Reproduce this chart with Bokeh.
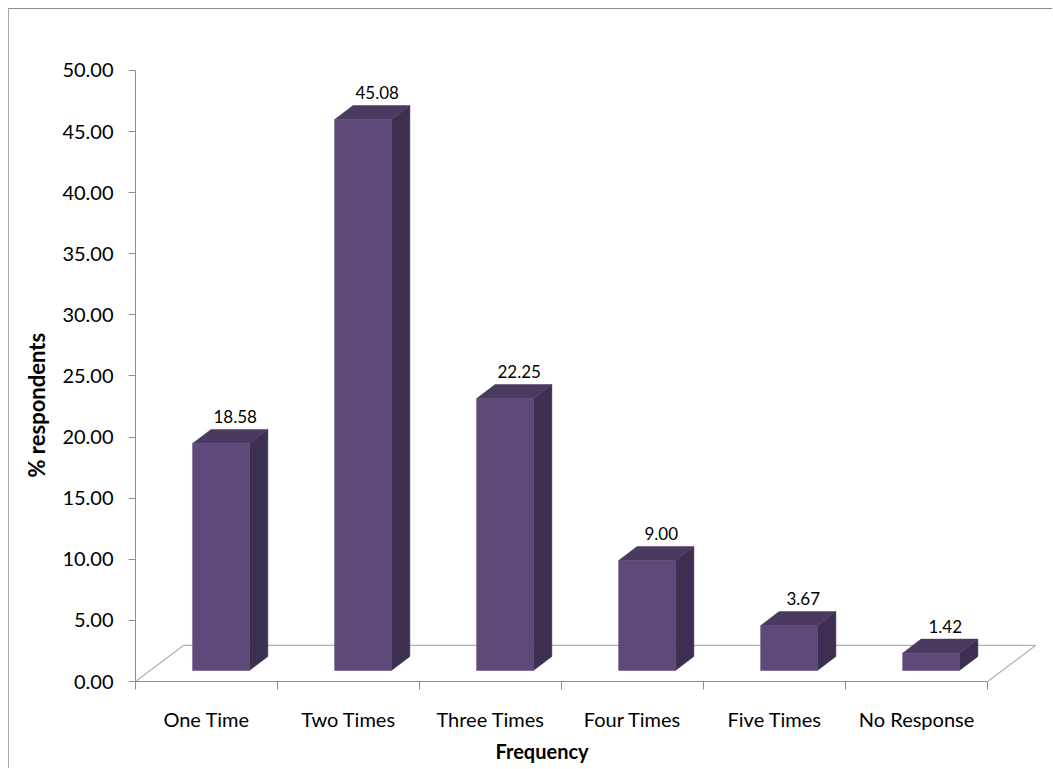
import math
from bokeh.plotting import figure
from bokeh.models import FixedTicker, NumeralTickFormatter, Title, ColumnDataSource
from bokeh.core.properties import value
from bokeh.embed import file_html
from bokeh.resources import INLINE

# ---- data ----
categories = ["One Time", "Two Times", "Three Times", "Four Times", "Five Times", "No Response"]
percent = [18.58, 45.08, 22.25, 9.00, 3.67, 1.42]
y_ticks = [0, 5, 10, 15, 20, 25, 30, 35, 40, 45, 50]

# ---- 3D geometry (data units: 1 category wide, value units tall) ----
FLOOR_DX, FLOOR_DY = 0.338, 2.95      # depth of the floor
BAR_INSET_X, BAR_INSET_Y = 0.102, 0.9  # bar offset into the floor
BAR_W = 0.40
BAR_DX, BAR_DY = 0.13, 1.15           # bar depth

FRONT = "#5E4A7A"
TOP = "#4A3A5F"
SIDE = "#3D2F50"
AXIS = "#8c8c8c"

p = figure(width=1044, height=760, output_backend="svg", toolbar_location=None,
           x_range=(0, 6.408), y_range=(0, 54.09),
           min_border_left=126, min_border_right=8, min_border_top=11, min_border_bottom=88)
p.styles = {"margin-left": "8px", "margin-top": "8px",
            "border-left": "1px solid #a8a8a8", "border-top": "1px solid #8c8c8c"}
p.outline_line_color = None
p.xgrid.visible = False
p.ygrid.visible = False
p.background_fill_color = "white"
p.border_fill_color = "white"

# floor (back, right and left edges; front edge is the x axis)
n = len(categories)
p.line(x=[0, FLOOR_DX, n + FLOOR_DX, n], y=[0, FLOOR_DY, FLOOR_DY, 0],
       line_color="#b0b0b0", line_width=1.2)

# bars
front_xs, front_ys, top_xs, top_ys, side_xs, side_ys = [], [], [], [], [], []
lab_x, lab_y, lab_t = [], [], []
for i, v in enumerate(percent):
    x0 = i + 0.5 - BAR_W / 2 + BAR_INSET_X
    x1 = x0 + BAR_W
    b = BAR_INSET_Y
    t = BAR_INSET_Y + v
    front_xs.append([x0, x1, x1, x0]); front_ys.append([b, b, t, t])
    top_xs.append([x0, x1, x1 + BAR_DX, x0 + BAR_DX]); top_ys.append([t, t, t + BAR_DY, t + BAR_DY])
    side_xs.append([x1, x1 + BAR_DX, x1 + BAR_DX, x1]); side_ys.append([b, b + BAR_DY, t + BAR_DY, t])
    lab_x.append((x0 + x1) / 2 + 0.1)
    lab_y.append(t + BAR_DY + 0.5)
    lab_t.append(f"{v:.2f}")

p.patches(side_xs, side_ys, fill_color=SIDE, line_color=SIDE, line_width=0.5)
p.patches(top_xs, top_ys, fill_color=TOP, line_color=TOP, line_width=0.5)
p.patches(front_xs, front_ys, fill_color=FRONT, line_color=FRONT, line_width=0.5)

src = ColumnDataSource(dict(x=lab_x, y=lab_y, t=lab_t))
p.text(x="x", y="y", text="t", source=src, text_font=value("Lato"), text_font_size="17px",
       text_align="center", text_baseline="bottom", text_color="black")

# y axis
ya = p.yaxis[0]
ya.ticker = FixedTicker(ticks=y_ticks)
ya.formatter = NumeralTickFormatter(format="0.00")
ya.bounds = (0, 50)
ya.axis_line_color = AXIS
ya.major_tick_line_color = AXIS
ya.major_tick_in = 0
ya.major_tick_out = 7
ya.minor_tick_line_color = None
ya.major_label_standoff = 15
ya.major_label_text_font = "Lato"
ya.major_label_text_font_size = "20px"
ya.major_label_text_color = "black"

# x axis
xa = p.xaxis[0]
xa.ticker = FixedTicker(ticks=[i + 0.5 for i in range(n)], minor_ticks=list(range(n + 1)))
xa.major_label_overrides = {i + 0.5: c for i, c in enumerate(categories)}
xa.bounds = (0, n)
xa.axis_line_color = AXIS
xa.major_tick_line_color = None
xa.major_tick_in = 0
xa.major_tick_out = 0
xa.minor_tick_line_color = AXIS
xa.minor_tick_in = 0
xa.minor_tick_out = 8
xa.major_label_standoff = 17
xa.major_label_text_font = "Lato"
xa.major_label_text_font_size = "20px"
xa.major_label_text_color = "black"

# axis titles
p.add_layout(Title(text="% respondents", align="left", offset=204, standoff=19,
                   text_font="Lato", text_font_size="22px", text_font_style="bold",
                   text_color="black"), "left")
p.add_layout(Title(text="Frequency", align="left", offset=360, standoff=6,
                   text_font="Lato", text_font_size="20px", text_font_style="bold",
                   text_color="black"), "below")

open("out.html", "w").write(file_html(p, INLINE))
